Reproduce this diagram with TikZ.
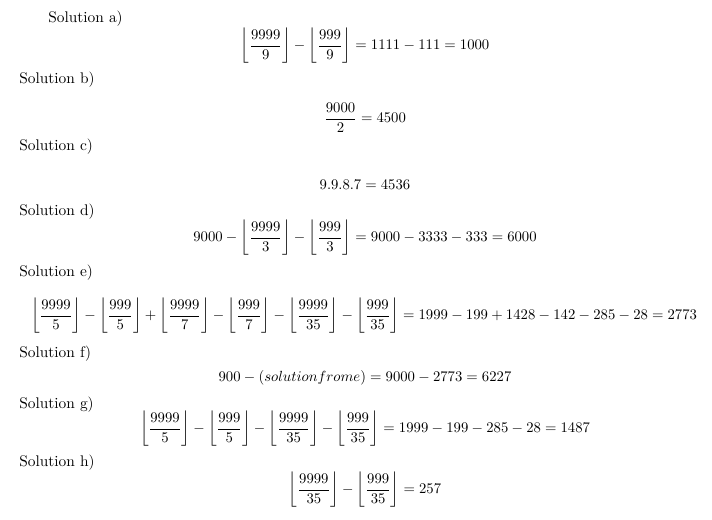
\documentclass[tikz,border=0pt]{standalone}
\usepackage{amsmath}
\usetikzlibrary{positioning}

\tikzset{
  soltext/.style={anchor=west,inner sep=0pt},
  soleq/.style={anchor=center,inner sep=0pt,scale=0.955,transform shape}
}

\begin{document}
\begin{tikzpicture}[x=0.65pt,y=-0.65pt]
\useasboundingbox (0,0) rectangle (712,520);

% headings
\node[soltext] (solA) at (48,19) {Solution a)};
\node[soltext] (solB) at (19,80) {Solution b)};
\node[soltext] (solC) at (19,147) {Solution c)};
\node[soltext] (solD) at (19,212) {Solution d)};
\node[soltext] (solE) at (19,273) {Solution e)};
\node[soltext] (solF) at (19,354) {Solution f)};
\node[soltext] (solG) at (19,405) {Solution g)};
\node[soltext] (solH) at (19,463) {Solution h)};

% equations
\node[soleq] (eqA) at (365,46) {$\displaystyle\left\lfloor\frac{9999}{9}\right\rfloor-\left\lfloor\frac{999}{9}\right\rfloor=1111-111=1000$};
\node[soleq] (eqB) at (365,118) {$\displaystyle\frac{9000}{2}=4500$};
\node[soleq] (eqC) at (365,185) {$9.9.8.7=4536$};
\node[soleq] (eqD) at (365,238) {$\displaystyle 9000-\left\lfloor\frac{9999}{3}\right\rfloor-\left\lfloor\frac{999}{3}\right\rfloor=9000-3333-333=6000$};
\node[soleq] (eqE) at (364,316) {$\displaystyle\left\lfloor\frac{9999}{5}\right\rfloor-\left\lfloor\frac{999}{5}\right\rfloor+\left\lfloor\frac{9999}{7}\right\rfloor-\left\lfloor\frac{999}{7}\right\rfloor-\left\lfloor\frac{9999}{35}\right\rfloor-\left\lfloor\frac{999}{35}\right\rfloor=1999-199+1428-142-285-28=2773$};
\node[soleq] (eqF) at (365,378) {$900-(solution from e)=9000-2773=6227$};
\node[soleq] (eqG) at (365,429) {$\displaystyle\left\lfloor\frac{9999}{5}\right\rfloor-\left\lfloor\frac{999}{5}\right\rfloor-\left\lfloor\frac{9999}{35}\right\rfloor-\left\lfloor\frac{999}{35}\right\rfloor=1999-199-285-28=1487$};
\node[soleq] (eqH) at (365,490) {$\displaystyle\left\lfloor\frac{9999}{35}\right\rfloor-\left\lfloor\frac{999}{35}\right\rfloor=257$};

\end{tikzpicture}
\end{document}
